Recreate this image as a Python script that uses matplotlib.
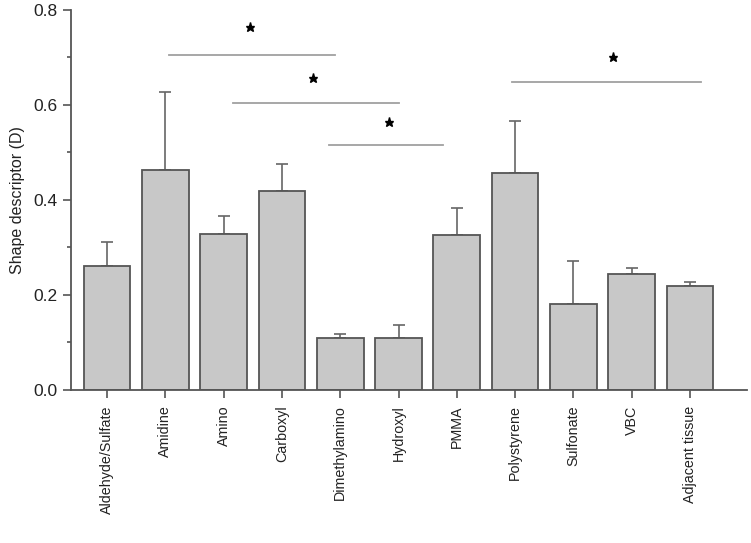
import numpy as np
import matplotlib
matplotlib.use("Agg")
import matplotlib.pyplot as plt

plt.rcParams['font.family'] = ['Liberation Sans', 'DejaVu Sans']

# data
groups = ["Aldehyde/Sulfate", "Amidine", "Amino", "Carboxyl", "Dimethylamino",
          "Hydroxyl", "PMMA", "Polystyrene", "Sulfonate", "VBC", "Adjacent tissue"]
means = [0.262, 0.463, 0.328, 0.418, 0.109, 0.109, 0.326, 0.456, 0.182, 0.245, 0.219]
upper = [0.311, 0.627, 0.367, 0.475, 0.118, 0.137, 0.383, 0.567, 0.272, 0.257, 0.227]
errs = [u - m for u, m in zip(upper, means)]

# significance brackets: (x start, x end, line y, star x, star y)
sig_lines = [(2.06, 4.91, 0.705, 3.45, 0.764),
             (3.16, 6.01, 0.605, 4.53, 0.657),
             (4.81, 6.76, 0.515, 5.84, 0.564),
             (7.95, 11.19, 0.648, 9.68, 0.701)]

fig = plt.figure(figsize=(7.51, 5.43), dpi=100)
ax = fig.add_axes([0.0945, 0.2818, 0.9002, 0.6998])

x = np.arange(1, len(groups) + 1)
ax.bar(x, means, width=0.8, color="#c8c8c8", edgecolor="#555555", linewidth=1.3, zorder=2)
ax.errorbar(x, means, yerr=[np.zeros(len(errs)), errs], fmt="none",
            ecolor="#666666", elinewidth=1.2, capsize=4, capthick=1.2, zorder=1)

for x0, x1, ly, sx, sy in sig_lines:
    ax.plot([x0, x1], [ly, ly], color="#a0a0a0", lw=1.3, clip_on=False)
    ax.plot(sx, sy, marker="*", color="black", markersize=6.5, clip_on=False)

ax.set_xlim(0.38, 11.98)
ax.set_ylim(0, 0.8)
ax.set_yticks([0.0, 0.2, 0.4, 0.6, 0.8])
ax.set_yticks(np.arange(0.1, 0.8, 0.2), minor=True)
ax.set_xticks(x)
ax.set_xticklabels(groups, rotation=90, fontsize=10.3)
ax.set_ylabel("Shape descriptor (D)", fontsize=11.5, color="#222222", labelpad=6)

for s in ["top", "right"]:
    ax.spines[s].set_visible(False)
for s in ["left", "bottom"]:
    ax.spines[s].set_color("#555555")
    ax.spines[s].set_linewidth(1.3)

ax.tick_params(axis="both", which="major", direction="out", length=6, width=1.2,
               color="#555555", labelcolor="#222222")
ax.tick_params(axis="y", which="major", labelsize=12.5)
ax.tick_params(axis="y", which="minor", direction="out", length=3, width=1.2, color="#555555")
ax.tick_params(axis="x", which="major", pad=5)

fig.savefig("out.png", dpi=100)
